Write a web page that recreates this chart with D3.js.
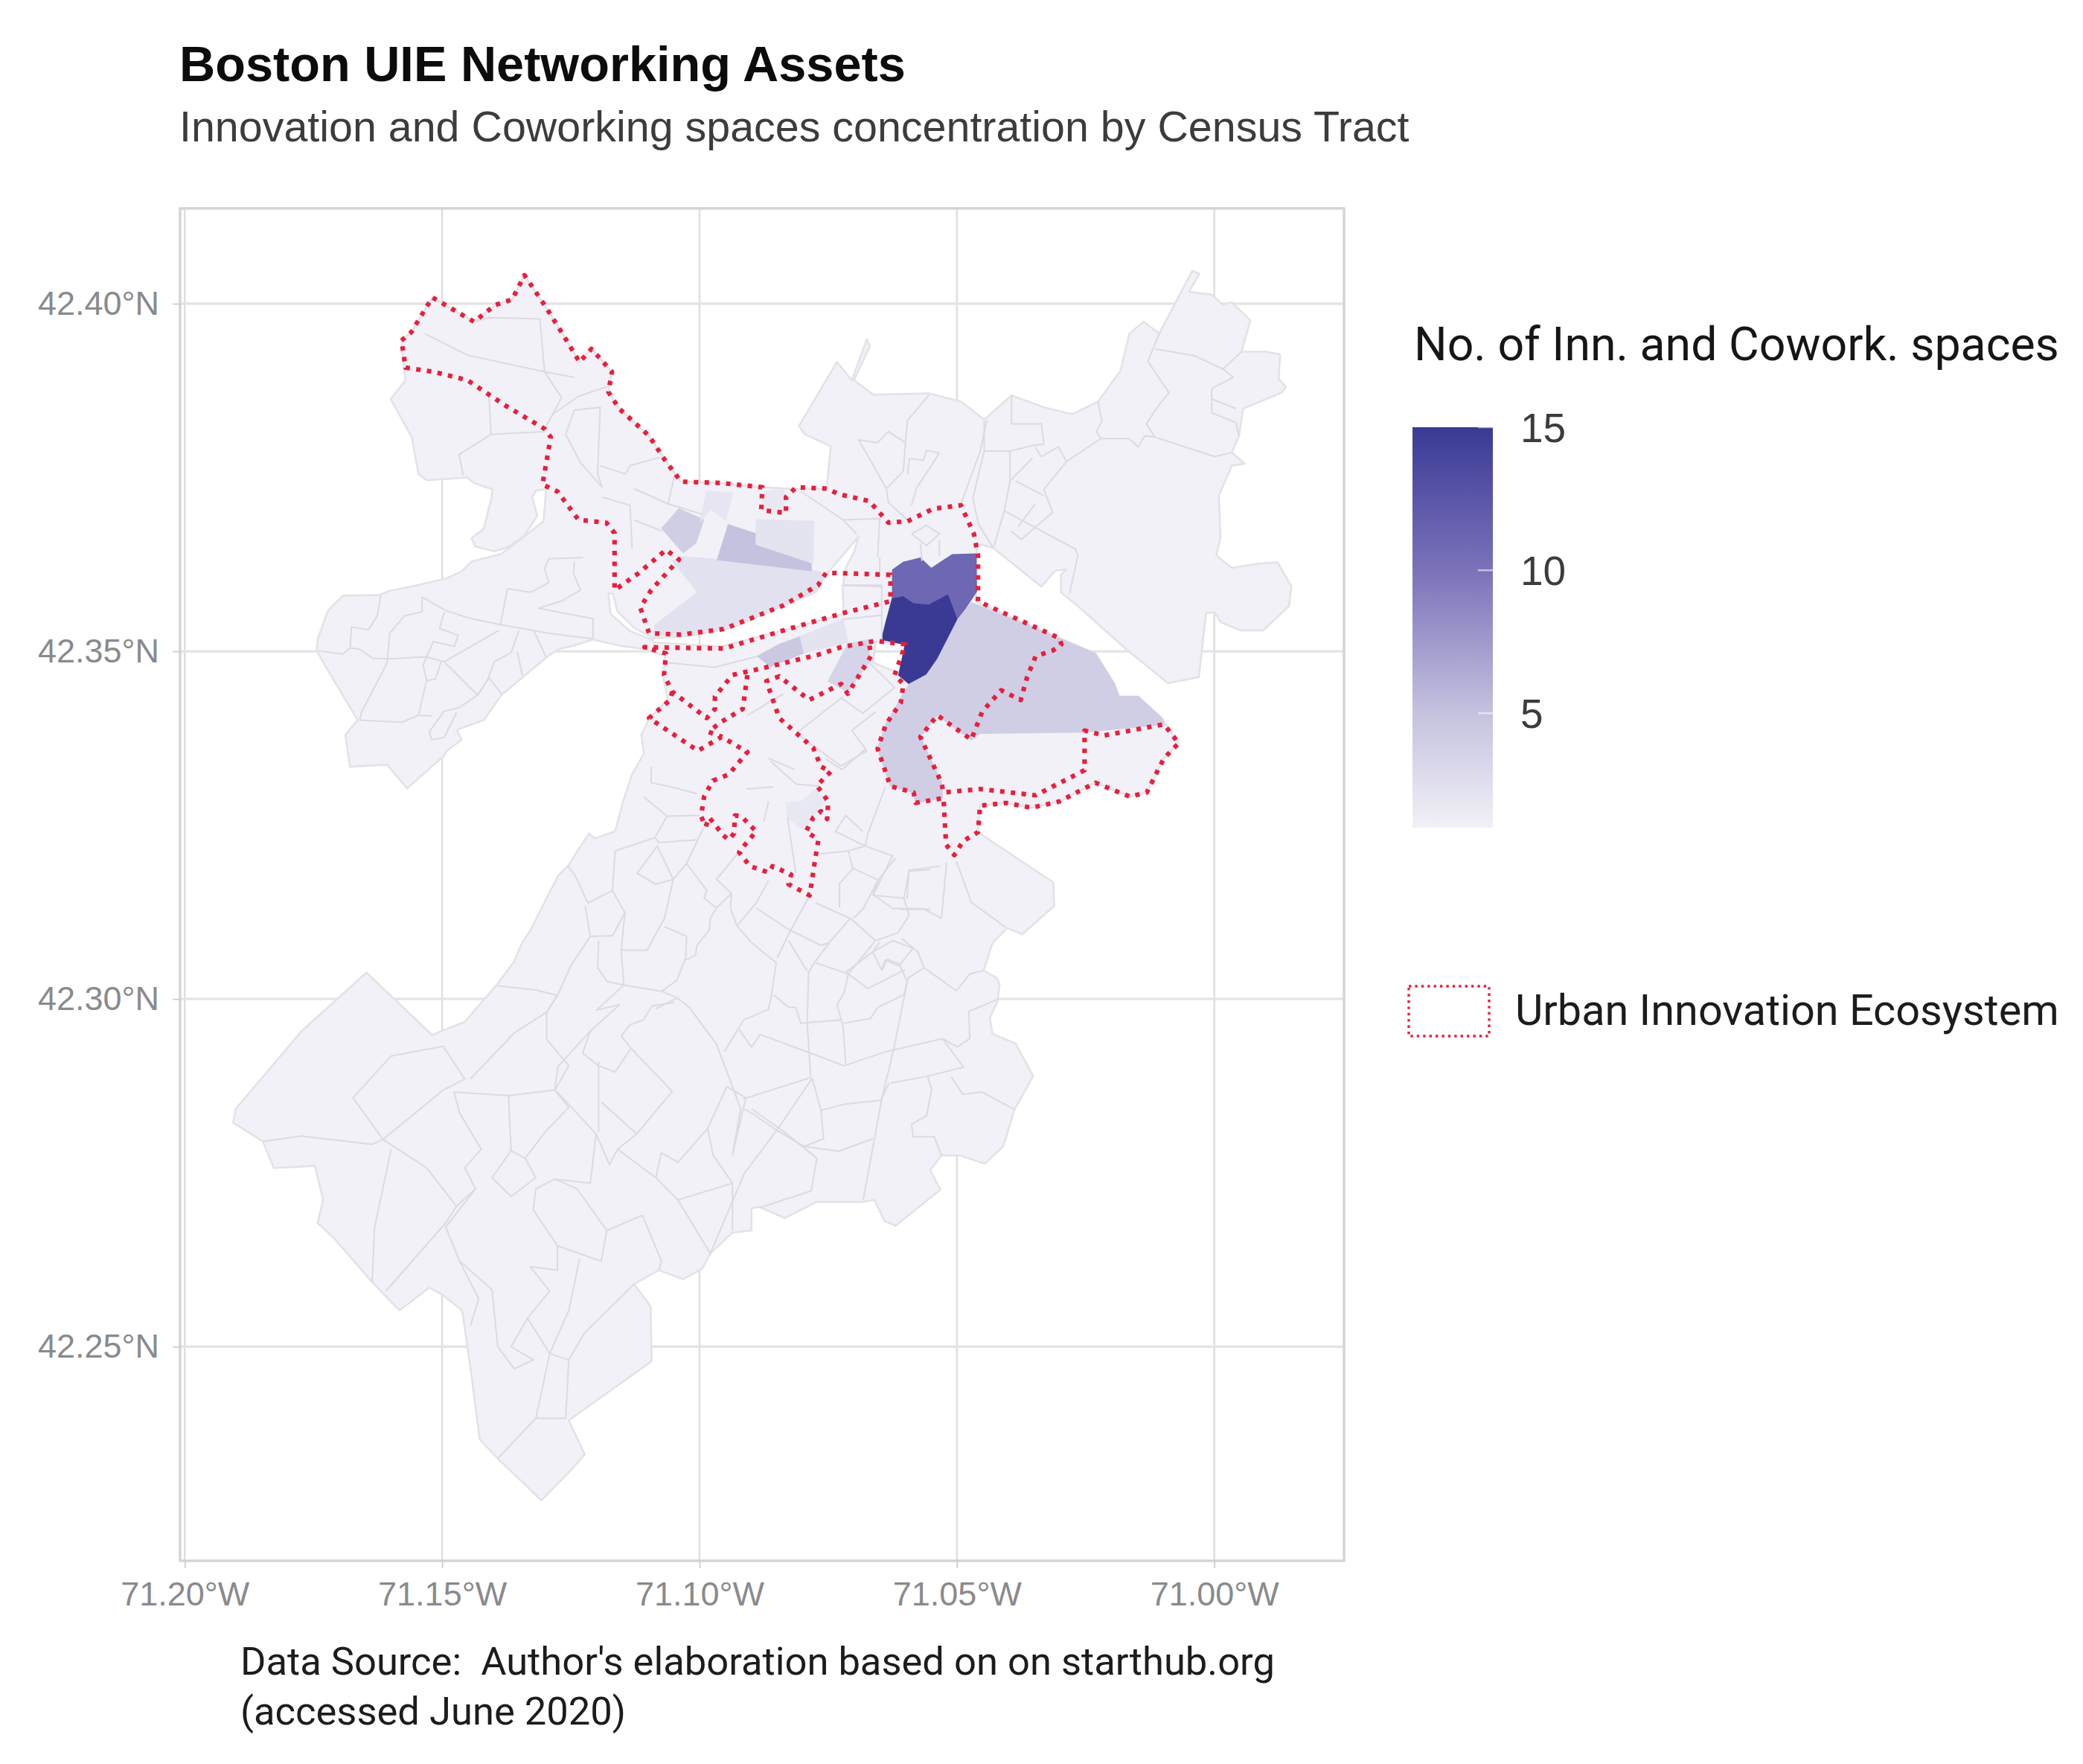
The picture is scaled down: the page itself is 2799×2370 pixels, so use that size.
<!DOCTYPE html>
<html><head><meta charset="utf-8">
<script src="https://cdn.jsdelivr.net/npm/d3@7"></script>
<style>html,body{margin:0;padding:0;background:#fff}svg{display:block}</style>
</head><body><svg id="c" width="2799" height="2370"></svg>
<script>
const titleText="Boston UIE Networking Assets";
const subtitleText="Innovation and Coworking spaces concentration by Census Tract";
const legendTitle="No. of Inn. and Cowork. spaces";
const legendKeyLabel="Urban Innovation Ecosystem";
const captionLines=["Data Source:  Author's elaboration based on on starthub.org","(accessed June 2020)"];
const lonTicks=[-71.20,-71.15,-71.10,-71.05,-71.00];
const latTicks=[42.25,42.30,42.35,42.40];
const lonExtent=[-71.2009,-70.9748];
const latExtent=[42.2192,42.4137];
const legendTicks=[5,10,15];
const colorStops=[1,5,10,15];
const colorValues=['#f1f1f7','#c5c2df','#7b72ba','#3a3a95'];

// whole city outline, lon/lat
const cityOutline=[[-71.1579,42.3947],[-71.1560,42.3959],[-71.1519,42.4009],[-71.1438,42.3974],[-71.1397,42.3998],[-71.1364,42.4006],[-71.1340,42.4041],[-71.1301,42.3998],[-71.1268,42.3959],[-71.1233,42.3916],[-71.1210,42.3935],[-71.1170,42.3902],[-71.1177,42.3873],[-71.1156,42.3849],[-71.1098,42.3810],[-71.1069,42.3777],[-71.1036,42.3744],[-71.0957,42.3742],[-71.0878,42.3736],[-71.0828,42.3734],[-71.0753,42.3734],[-71.0745,42.3795],[-71.0795,42.3812],[-71.0807,42.3824],[-71.0733,42.3916],[-71.0704,42.3890],[-71.0675,42.3949],[-71.0669,42.3939],[-71.0700,42.3890],[-71.0662,42.3869],[-71.0554,42.3871],[-71.0491,42.3859],[-71.0447,42.3833],[-71.0394,42.3868],[-71.0331,42.3851],[-71.0276,42.3841],[-71.0226,42.3859],[-71.0182,42.3904],[-71.0165,42.3957],[-71.0137,42.3974],[-71.0107,42.3957],[-71.0043,42.4047],[-71.0029,42.4043],[-71.0049,42.4017],[-71.0005,42.4013],[-70.9983,42.3998],[-70.9966,42.4002],[-70.9930,42.3976],[-70.9947,42.3931],[-70.9900,42.3931],[-70.9872,42.3927],[-70.9875,42.3892],[-70.9861,42.3880],[-70.9869,42.3872],[-70.9944,42.3849],[-70.9952,42.3810],[-70.9966,42.3786],[-70.9941,42.3770],[-70.9966,42.3767],[-70.9991,42.3724],[-70.9988,42.3663],[-70.9996,42.3638],[-70.9966,42.3620],[-70.9916,42.3626],[-70.9877,42.3628],[-70.9850,42.3593],[-70.9855,42.3565],[-70.9905,42.3530],[-70.9949,42.3530],[-70.9988,42.3542],[-70.9999,42.3556],[-71.0016,42.3555],[-71.0030,42.3463],[-71.0090,42.3454],[-71.0171,42.3503],[-71.0265,42.3565],[-71.0298,42.3585],[-71.0298,42.3610],[-71.0287,42.3618],[-71.0309,42.3616],[-71.0336,42.3593],[-71.0430,42.3649],[-71.0461,42.3655],[-71.0461,42.3593],[-71.0464,42.3573],[-71.0459,42.3570],[-71.0301,42.3519],[-71.0231,42.3497],[-71.0194,42.3453],[-71.0185,42.3435],[-71.0148,42.3435],[-71.0102,42.3404],[-71.0069,42.3368],[-71.0098,42.3346],[-71.0131,42.3297],[-71.0164,42.3291],[-71.0231,42.3311],[-71.0301,42.3284],[-71.0355,42.3275],[-71.0405,42.3282],[-71.0455,42.3278],[-71.0459,42.3240],[-71.0352,42.3187],[-71.0313,42.3168],[-71.0311,42.3134],[-71.0373,42.3093],[-71.0402,42.3102],[-71.0431,42.3080],[-71.0448,42.3041],[-71.0422,42.3030],[-71.0417,42.3020],[-71.0422,42.2995],[-71.0436,42.2973],[-71.0431,42.2950],[-71.0386,42.2936],[-71.0352,42.2889],[-71.0388,42.2841],[-71.0410,42.2788],[-71.0446,42.2763],[-71.0494,42.2775],[-71.0530,42.2775],[-71.0552,42.2754],[-71.0532,42.2726],[-71.0619,42.2674],[-71.0641,42.2681],[-71.0660,42.2711],[-71.0687,42.2708],[-71.0773,42.2708],[-71.0834,42.2685],[-71.0884,42.2701],[-71.0899,42.2699],[-71.0899,42.2667],[-71.0936,42.2664],[-71.0979,42.2634],[-71.0995,42.2612],[-71.1032,42.2597],[-71.1079,42.2610],[-71.1127,42.2590],[-71.1095,42.2558],[-71.1093,42.2479],[-71.1254,42.2394],[-71.1223,42.2345],[-71.1249,42.2323],[-71.1307,42.2279],[-71.1392,42.2339],[-71.1427,42.2367],[-71.1445,42.2470],[-71.1461,42.2552],[-71.1498,42.2574],[-71.1525,42.2585],[-71.1583,42.2552],[-71.1636,42.2593],[-71.1710,42.2656],[-71.1742,42.2678],[-71.1731,42.2711],[-71.1747,42.2760],[-71.1827,42.2757],[-71.1848,42.2795],[-71.1906,42.2822],[-71.1901,42.2842],[-71.1774,42.2953],[-71.1647,42.3038],[-71.1519,42.2948],[-71.1498,42.2955],[-71.1456,42.2967],[-71.1392,42.3022],[-71.1360,42.3054],[-71.1344,42.3082],[-71.1329,42.3098],[-71.1275,42.3177],[-71.1256,42.3191],[-71.1215,42.3238],[-71.1203,42.3231],[-71.1164,42.3241],[-71.1150,42.3280],[-71.1131,42.3323],[-71.1108,42.3353],[-71.1113,42.3380],[-71.1098,42.3403],[-71.1062,42.3430],[-71.1070,42.3462],[-71.1067,42.3494],[-71.1106,42.3503],[-71.1154,42.3508],[-71.1207,42.3517],[-71.1245,42.3508],[-71.1274,42.3503],[-71.1293,42.3494],[-71.1385,42.3437],[-71.1419,42.3401],[-71.1472,42.3387],[-71.1462,42.3373],[-71.1491,42.3357],[-71.1496,42.3350],[-71.1568,42.3303],[-71.1607,42.3337],[-71.1679,42.3334],[-71.1688,42.3380],[-71.1664,42.3401],[-71.1722,42.3473],[-71.1744,42.3501],[-71.1741,42.3519],[-71.1722,42.3558],[-71.1693,42.3580],[-71.1621,42.3581],[-71.1602,42.3587],[-71.1554,42.3594],[-71.1491,42.3605],[-71.1462,42.3615],[-71.1443,42.3629],[-71.1385,42.3640],[-71.1356,42.3656],[-71.1303,42.3687],[-71.1298,42.3733],[-71.1318,42.3731],[-71.1325,42.3722],[-71.1315,42.3695],[-71.1342,42.3665],[-71.1375,42.3649],[-71.1399,42.3644],[-71.1436,42.3651],[-71.1443,42.3663],[-71.1419,42.3676],[-71.1404,42.3722],[-71.1402,42.3733],[-71.1438,42.3742],[-71.1451,42.3750],[-71.1530,42.3746],[-71.1546,42.3755],[-71.1559,42.3808],[-71.1600,42.3863],[-71.1571,42.3890],[-71.1575,42.3910]];

// water cut out of the land
const waterGaps=[
[[-71.1090,42.3519],[-71.1019,42.3522],[-71.0936,42.3534],[-71.0845,42.3563],[-71.0774,42.3585],[-71.0753,42.3611],[-71.0691,42.3665],[-71.0700,42.3642],[-71.0716,42.3620],[-71.0722,42.3593],[-71.0720,42.3554],[-71.0828,42.3532],[-71.0957,42.3507],[-71.1052,42.3511],[-71.1090,42.3513]],
[[-71.1168,42.3583],[-71.1160,42.3558],[-71.1127,42.3534],[-71.1090,42.3519],[-71.1090,42.3516],[-71.1135,42.3529],[-71.1173,42.3554],[-71.1177,42.3583]],
[[-71.0658,42.3514],[-71.0600,42.3510],[-71.0611,42.3468],[-71.0663,42.3484]]];

// tracts with a count above the base level
const shadedTracts=[
[[-71.0625,42.3577],[-71.0604,42.3580],[-71.0584,42.3570],[-71.0555,42.3568],[-71.0517,42.3583],[-71.0509,42.3568],[-71.0498,42.3546],[-71.0538,42.3488],[-71.0559,42.3466],[-71.0592,42.3453],[-71.0613,42.3466],[-71.0600,42.3510],[-71.0646,42.3517],[-71.0638,42.3541]],
[[-71.0625,42.3617],[-71.0604,42.3628],[-71.0571,42.3634],[-71.0550,42.3619],[-71.0509,42.3639],[-71.0463,42.3640],[-71.0462,42.3586],[-71.0498,42.3546],[-71.0509,42.3568],[-71.0517,42.3583],[-71.0555,42.3568],[-71.0584,42.3570],[-71.0604,42.3580],[-71.0625,42.3577]],
[[-71.0472,42.3570],[-71.0301,42.3519],[-71.0231,42.3497],[-71.0194,42.3453],[-71.0185,42.3435],[-71.0148,42.3435],[-71.0102,42.3404],[-71.0098,42.3395],[-71.0252,42.3384],[-71.0455,42.3382],[-71.0472,42.3373],[-71.0538,42.3408],[-71.0571,42.3377],[-71.0530,42.3311],[-71.0528,42.3289],[-71.0580,42.3282],[-71.0584,42.3297],[-71.0629,42.3306],[-71.0654,42.3360],[-71.0638,42.3395],[-71.0604,42.3439],[-71.0592,42.3453],[-71.0559,42.3466],[-71.0538,42.3488],[-71.0498,42.3546]],
[[-71.1032,42.3636],[-71.0965,42.3632],[-71.0783,42.3617],[-71.0753,42.3611],[-71.0774,42.3586],[-71.0845,42.3565],[-71.0936,42.3537],[-71.1019,42.3525],[-71.1090,42.3523],[-71.1086,42.3538],[-71.1003,42.3585],[-71.1052,42.3630]],
[[-71.0944,42.3682],[-71.0890,42.3669],[-71.0890,42.3654],[-71.0783,42.3626],[-71.0783,42.3616],[-71.0965,42.3632]],
[[-71.1040,42.3705],[-71.0992,42.3689],[-71.1007,42.3656],[-71.1032,42.3642],[-71.1073,42.3677]],
[[-71.0890,42.3689],[-71.0778,42.3687],[-71.0780,42.3627],[-71.0890,42.3654],[-71.0890,42.3669]],
[[-71.0986,42.3730],[-71.0936,42.3728],[-71.0949,42.3689],[-71.0978,42.3705],[-71.0998,42.3687]],
[[-71.0874,42.3730],[-71.0836,42.3732],[-71.0836,42.3699],[-71.0878,42.3703]],
[[-71.0887,42.3493],[-71.0845,42.3510],[-71.0804,42.3521],[-71.0797,42.3498],[-71.0862,42.3478]],
[[-71.0804,42.3521],[-71.0721,42.3546],[-71.0712,42.3513],[-71.0797,42.3498]],
[[-71.0712,42.3510],[-71.0671,42.3517],[-71.0671,42.3484],[-71.0712,42.3442],[-71.0750,42.3457]],
[[-71.0832,42.3282],[-71.0801,42.3284],[-71.0774,42.3302],[-71.0757,42.3284],[-71.0779,42.3263],[-71.0798,42.3243],[-71.0829,42.3261]]];
const shadedValues=[15,11,4,2.4,5,4,2.2,2,1.8,4.5,2.2,3.5,1.8];

// remaining census tract boundaries
const tractLines=[
[[-71.1539,42.3578],[-71.1491,42.3558],[-71.1443,42.3547],[-71.1390,42.3539],[-71.1346,42.3533],[-71.1293,42.3526],[-71.1207,42.3518]],
[[-71.1387,42.3537],[-71.1373,42.3590],[-71.1327,42.3585],[-71.1293,42.3599],[-71.1301,42.3619],[-71.1293,42.3633],[-71.1226,42.3635]],
[[-71.1243,42.3629],[-71.1245,42.3612],[-71.1231,42.3588],[-71.1269,42.3572],[-71.1313,42.3562],[-71.1207,42.3547],[-71.1207,42.3518]],
[[-71.1619,42.3581],[-71.1626,42.3551],[-71.1643,42.3531],[-71.1676,42.3535],[-71.1679,42.3505],[-71.1693,42.3496],[-71.1741,42.3501]],
[[-71.1679,42.3505],[-71.1660,42.3503],[-71.1635,42.3490],[-71.1602,42.3489],[-71.1532,42.3492],[-71.1496,42.3485]],
[[-71.1539,42.3578],[-71.1539,42.3557],[-71.1573,42.3551],[-71.1602,42.3526],[-71.1607,42.3483],[-71.1657,42.3412],[-71.1660,42.3401]],
[[-71.1660,42.3401],[-71.1578,42.3398],[-71.1546,42.3408],[-71.1530,42.3458],[-71.1537,42.3480],[-71.1517,42.3514],[-71.1476,42.3507],[-71.1469,42.3523],[-71.1505,42.3533],[-71.1496,42.3556]],
[[-71.1390,42.3530],[-71.1496,42.3485],[-71.1431,42.3437],[-71.1409,42.3462],[-71.1385,42.3439]],
[[-71.1351,42.3530],[-71.1366,42.3498],[-71.1399,42.3485],[-71.1411,42.3460],[-71.1431,42.3437],[-71.1467,42.3419],[-71.1496,42.3414],[-71.1525,42.3384],[-71.1520,42.3373],[-71.1496,42.3376],[-71.1472,42.3412]],
[[-71.1354,42.3499],[-71.1344,42.3465]],
[[-71.1322,42.3530],[-71.1298,42.3492]],
[[-71.1546,42.3408],[-71.1520,42.3407]],
[[-71.1501,42.3487],[-71.1513,42.3460],[-71.1530,42.3458]],
[[-71.1534,42.3957],[-71.1451,42.3926],[-71.1301,42.3902],[-71.1243,42.3894]],
[[-71.1438,42.3974],[-71.1409,42.3980],[-71.1310,42.3978],[-71.1301,42.3902],[-71.1268,42.3865],[-71.1285,42.3841],[-71.1301,42.3820]],
[[-71.1285,42.3841],[-71.1235,42.3867],[-71.1177,42.3881]],
[[-71.1409,42.3869],[-71.1405,42.3812],[-71.1467,42.3783],[-71.1459,42.3753]],
[[-71.1405,42.3812],[-71.1301,42.3816]],
[[-71.1260,42.3812],[-71.1243,42.3847],[-71.1193,42.3851],[-71.1198,42.3755],[-71.1189,42.3736],[-71.1231,42.3771],[-71.1260,42.3812]],
[[-71.1193,42.3767],[-71.1144,42.3755],[-71.1135,42.3767],[-71.1077,42.3779]],
[[-71.1189,42.3722],[-71.1135,42.3710],[-71.1131,42.3648]],
[[-71.1127,42.3734],[-71.1061,42.3712],[-71.1048,42.3755]],
[[-71.1127,42.3689],[-71.1073,42.3673]],
[[-71.1061,42.3712],[-71.0994,42.3697]],
[[-71.0803,42.3730],[-71.0721,42.3689],[-71.0695,42.3669]],
[[-71.0721,42.3689],[-71.0650,42.3691],[-71.0654,42.3636]],
[[-71.0720,42.3595],[-71.0645,42.3593]],
[[-71.0650,42.3636],[-71.0650,42.3607]],
[[-71.0588,42.3669],[-71.0559,42.3681],[-71.0534,42.3669],[-71.0559,42.3652],[-71.0588,42.3669]],
[[-71.0571,42.3655],[-71.0568,42.3630]],
[[-71.0534,42.3660],[-71.0534,42.3637]],
[[-71.0554,42.3869],[-71.0596,42.3832],[-71.0600,42.3800],[-71.0633,42.3816],[-71.0654,42.3800],[-71.0691,42.3804],[-71.0662,42.3767],[-71.0637,42.3734],[-71.0633,42.3714],[-71.0596,42.3689]],
[[-71.0442,42.3832],[-71.0455,42.3787],[-71.0492,42.3712]],
[[-71.0534,42.3785],[-71.0559,42.3789],[-71.0565,42.3775],[-71.0592,42.3777],[-71.0596,42.3755]],
[[-71.0534,42.3785],[-71.0579,42.3734],[-71.0588,42.3710]],
[[-71.0637,42.3734],[-71.0604,42.3759],[-71.0600,42.3800]],
[[-71.0447,42.3831],[-71.0447,42.3788],[-71.0469,42.3720],[-71.0458,42.3683],[-71.0430,42.3649]],
[[-71.0447,42.3788],[-71.0397,42.3788],[-71.0353,42.3796],[-71.0331,42.3798],[-71.0336,42.3827],[-71.0394,42.3827],[-71.0394,42.3868]],
[[-71.0397,42.3788],[-71.0397,42.3745],[-71.0408,42.3702],[-71.0428,42.3651]],
[[-71.0408,42.3702],[-71.0270,42.3647],[-71.0265,42.3638],[-71.0281,42.3583]],
[[-71.0220,42.3806],[-71.0287,42.3773],[-71.0331,42.3733],[-71.0314,42.3700],[-71.0359,42.3671],[-71.0375,42.3661],[-71.0395,42.3673]],
[[-71.0386,42.3745],[-71.0331,42.3724]],
[[-71.0348,42.3712],[-71.0381,42.3679]],
[[-71.0348,42.3794],[-71.0336,42.3780],[-71.0303,42.3794],[-71.0287,42.3773]],
[[-71.0397,42.3745],[-71.0353,42.3778]],
[[-71.0226,42.3859],[-71.0218,42.3831],[-71.0229,42.3816],[-71.0220,42.3806]],
[[-71.0220,42.3806],[-71.0165,42.3806],[-71.0148,42.3794],[-71.0135,42.3810],[-71.0115,42.3808],[-70.9999,42.3780],[-70.9966,42.3786]],
[[-71.0107,42.3957],[-71.0129,42.3917],[-71.0088,42.3872],[-71.0107,42.3855],[-71.0132,42.3827],[-71.0115,42.3808]],
[[-71.0115,42.3935],[-71.0038,42.3925],[-70.9983,42.3906],[-70.9947,42.3931]],
[[-70.9983,42.3906],[-70.9963,42.3894],[-71.0005,42.3878],[-71.0005,42.3843],[-70.9958,42.3829],[-70.9952,42.3810]],
[[-71.0005,42.3863],[-70.9958,42.3849]],
[[-71.1069,42.3484],[-71.0970,42.3477],[-71.0887,42.3493]],
[[-71.0721,42.3595],[-71.0646,42.3595],[-71.0646,42.3517]],
[[-71.0721,42.3546],[-71.0646,42.3552]],
[[-71.0671,42.3484],[-71.0621,42.3448],[-71.0683,42.3411],[-71.0725,42.3433]],
[[-71.0907,42.3408],[-71.0837,42.3439]],
[[-71.0812,42.3382],[-71.0721,42.3435]],
[[-71.0812,42.3382],[-71.0725,42.3335],[-71.0675,42.3357],[-71.0704,42.3386],[-71.0658,42.3413]],
[[-71.0862,42.3342],[-71.0812,42.3309],[-71.0766,42.3306]],
[[-71.1094,42.3334],[-71.1094,42.3311],[-71.1049,42.3304],[-71.1005,42.3295]],
[[-71.1109,42.3291],[-71.1063,42.3263],[-71.1000,42.3264]],
[[-71.1063,42.3263],[-71.1087,42.3232],[-71.1164,42.3213]],
[[-71.1087,42.3232],[-71.1078,42.3225],[-71.1005,42.3229]],
[[-71.0993,42.3245],[-71.1025,42.3195],[-71.1051,42.3172],[-71.1082,42.3220],[-71.1121,42.3181],[-71.1085,42.3165],[-71.1051,42.3172]],
[[-71.1051,42.3172],[-71.1068,42.3116],[-71.1102,42.3070],[-71.1152,42.3070]],
[[-71.1164,42.3213],[-71.1169,42.3156],[-71.1145,42.3124],[-71.1152,42.3070],[-71.1147,42.3020],[-71.1200,42.2984],[-71.1155,42.2992]],
[[-71.1169,42.3156],[-71.1217,42.3138],[-71.1241,42.3177],[-71.1256,42.3191]],
[[-71.1222,42.3134],[-71.1212,42.3090],[-71.1169,42.3091],[-71.1145,42.3124]],
[[-71.1212,42.3090],[-71.1249,42.3049],[-71.1276,42.3005],[-71.1297,42.2981]],
[[-71.1196,42.3084],[-71.1198,42.3045],[-71.1179,42.3025],[-71.1147,42.3020]],
[[-71.1068,42.3104],[-71.1025,42.3090],[-71.1027,42.3059],[-71.1044,42.3027],[-71.1073,42.3011],[-71.1147,42.3020]],
[[-71.1025,42.3195],[-71.0986,42.3156],[-71.0991,42.3145],[-71.0967,42.3131],[-71.0938,42.3152],[-71.0967,42.3172],[-71.0926,42.3209]],
[[-71.0967,42.3131],[-71.0979,42.3116],[-71.0981,42.3099],[-71.1005,42.3077],[-71.1008,42.3063],[-71.1027,42.3056]],
[[-71.0938,42.3152],[-71.0940,42.3131],[-71.0928,42.3106],[-71.0899,42.3081],[-71.0851,42.3052],[-71.0861,42.3002],[-71.0866,42.2985],[-71.0914,42.2970],[-71.0952,42.2924]],
[[-71.1073,42.3011],[-71.1044,42.3002],[-71.1020,42.2988],[-71.0967,42.2935],[-71.0943,42.2888],[-71.0920,42.2842],[-71.0936,42.2776],[-71.0910,42.2858]],
[[-71.1155,42.2992],[-71.1212,42.2954],[-71.1275,42.2903],[-71.1281,42.2869]],
[[-71.1049,42.2995],[-71.1092,42.2990],[-71.1109,42.2970],[-71.1135,42.2963],[-71.1152,42.2947],[-71.1133,42.2929],[-71.1053,42.2867],[-71.1122,42.2806]],
[[-71.1133,42.2929],[-71.1164,42.2895],[-71.1196,42.2904],[-71.1227,42.2922],[-71.1212,42.2954]],
[[-71.0786,42.3149],[-71.0827,42.3093],[-71.0849,42.3059]],
[[-71.0890,42.3131],[-71.0827,42.3100]],
[[-71.0890,42.3138],[-71.0926,42.3106]],
[[-71.0866,42.3170],[-71.0890,42.3138]],
[[-71.0827,42.3100],[-71.0764,42.3077],[-71.0748,42.3081],[-71.0779,42.3050],[-71.0788,42.3038],[-71.0791,42.2967],[-71.0784,42.2888]],
[[-71.0827,42.3084],[-71.0791,42.3040]],
[[-71.0856,42.3006],[-71.0827,42.2988],[-71.0813,42.2988],[-71.0803,42.2965],[-71.0726,42.2970]],
[[-71.0748,42.3081],[-71.0707,42.3116],[-71.0658,42.3084],[-71.0711,42.3036]],
[[-71.0774,42.3052],[-71.0711,42.3036],[-71.0719,42.3009],[-71.0733,42.2992],[-71.0721,42.2960],[-71.0716,42.2906]],
[[-71.0711,42.3036],[-71.0673,42.3015],[-71.0601,42.3042]],
[[-71.0721,42.2965],[-71.0668,42.2972],[-71.0654,42.2988],[-71.0603,42.3006]],
[[-71.0610,42.3047],[-71.0598,42.3027]],
[[-71.0663,42.3067],[-71.0646,42.3042],[-71.0639,42.3056],[-71.0610,42.3047]],
[[-71.0658,42.3084],[-71.0615,42.3095],[-71.0593,42.3120],[-71.0603,42.3145]],
[[-71.0663,42.3149],[-71.0603,42.3145],[-71.0593,42.3184]],
[[-71.0774,42.3138],[-71.0707,42.3116]],
[[-71.0673,42.3238],[-71.0678,42.3220],[-71.0625,42.3206],[-71.0663,42.3149]],
[[-71.0678,42.3220],[-71.0711,42.3213],[-71.0764,42.3209]],
[[-71.0711,42.3213],[-71.0702,42.3188],[-71.0728,42.3166],[-71.0728,42.3131]],
[[-71.0683,42.3241],[-71.0716,42.3264],[-71.0736,42.3241],[-71.0678,42.3220]],
[[-71.0639,42.3305],[-71.0673,42.3238]],
[[-71.0552,42.3186],[-71.0593,42.3184]],
[[-71.0552,42.3129],[-71.0610,42.3129]],
[[-71.0866,42.3346],[-71.0815,42.3330]],
[[-71.0723,42.3330],[-71.0678,42.3359]],
[[-71.0723,42.3330],[-71.0755,42.3345]],
[[-71.0829,42.3261],[-71.0813,42.3181]],
[[-71.0866,42.3284],[-71.0875,42.3255]],
[[-71.0909,42.3302],[-71.0856,42.3305]],
[[-71.0923,42.2956],[-71.0899,42.2931],[-71.0882,42.2949],[-71.0784,42.2922],[-71.0719,42.2904],[-71.0639,42.2924],[-71.0528,42.2943]],
[[-71.0916,42.2856],[-71.0784,42.2887]],
[[-71.0649,42.2853],[-71.0632,42.2879]],
[[-71.0619,42.3203],[-71.0653,42.3171],[-71.0682,42.3130],[-71.0701,42.3116]],
[[-71.0781,42.2886],[-71.0764,42.2840],[-71.0759,42.2799],[-71.0797,42.2788],[-71.0850,42.2811],[-71.0894,42.2834],[-71.0913,42.2842]],
[[-71.0781,42.2886],[-71.0850,42.2811],[-71.0913,42.2749],[-71.0979,42.2634]],
[[-71.0797,42.2788],[-71.0730,42.2781],[-71.0663,42.2799]],
[[-71.0764,42.2840],[-71.0716,42.2849],[-71.0650,42.2854]],
[[-71.0595,42.3030],[-71.0622,42.2930],[-71.0646,42.2856],[-71.0682,42.2711]],
[[-71.0564,42.3045],[-71.0595,42.3030],[-71.0603,42.3006]],
[[-71.0528,42.2943],[-71.0487,42.2902],[-71.0557,42.2889],[-71.0629,42.2879]],
[[-71.0557,42.2889],[-71.0549,42.2870],[-71.0559,42.2832],[-71.0588,42.2820],[-71.0585,42.2802],[-71.0544,42.2802],[-71.0530,42.2775]],
[[-71.0511,42.2888],[-71.0489,42.2863],[-71.0451,42.2866],[-71.0388,42.2841]],
[[-71.0528,42.2943],[-71.0499,42.2931],[-71.0475,42.2943],[-71.0477,42.2982],[-71.0419,42.3000]],
[[-71.0564,42.3045],[-71.0501,42.3012],[-71.0475,42.3036],[-71.0448,42.3041]],
[[-71.0607,42.3087],[-71.0576,42.3068],[-71.0564,42.3045]],
[[-71.0663,42.3068],[-71.0624,42.3084],[-71.0585,42.3073],[-71.0610,42.3050],[-71.0636,42.3057],[-71.0646,42.3041]],
[[-71.0718,42.3037],[-71.0663,42.3068],[-71.0650,42.3082]],
[[-71.0702,42.3188],[-71.0653,42.3171],[-71.0663,42.3150],[-71.0624,42.3130],[-71.0566,42.3130],[-71.0530,42.3116],[-71.0520,42.3196]],
[[-71.0593,42.3185],[-71.0597,42.3144]],
[[-71.0593,42.3185],[-71.0532,42.3191]],
[[-71.0501,42.3198],[-71.0472,42.3139],[-71.0405,42.3103]],
[[-71.1599,42.2918],[-71.1673,42.2858],[-71.1615,42.2798],[-71.1498,42.2869],[-71.1456,42.2885],[-71.1498,42.2932],[-71.1599,42.2918]],
[[-71.1848,42.2795],[-71.1774,42.2803],[-71.1636,42.2791],[-71.1615,42.2798]],
[[-71.1615,42.2798],[-71.1530,42.2757],[-71.1472,42.2702],[-71.1493,42.2678],[-71.1609,42.2580]],
[[-71.1599,42.2784],[-71.1631,42.2672],[-71.1636,42.2593]],
[[-71.1477,42.2866],[-71.1466,42.2836],[-71.1424,42.2784],[-71.1456,42.2757],[-71.1435,42.2727],[-71.1472,42.2702]],
[[-71.1477,42.2866],[-71.1371,42.2861],[-71.1281,42.2869],[-71.1254,42.2844],[-71.1297,42.2811],[-71.1339,42.2771]],
[[-71.1371,42.2861],[-71.1366,42.2782],[-71.1403,42.2743],[-71.1366,42.2716],[-71.1318,42.2743],[-71.1339,42.2771],[-71.1366,42.2782]],
[[-71.1445,42.2885],[-71.1360,42.2951],[-71.1297,42.2981],[-71.1297,42.2942],[-71.1254,42.2904],[-71.1281,42.2869]],
[[-71.1392,42.3019],[-71.1318,42.3013],[-71.1276,42.3005],[-71.1297,42.2981]],
[[-71.1196,42.2910],[-71.1196,42.2809]],
[[-71.1276,42.2866],[-71.1201,42.2806],[-71.1212,42.2735],[-71.1281,42.2741],[-71.1318,42.2727]],
[[-71.1191,42.2852],[-71.1122,42.2806],[-71.1159,42.2784],[-71.1175,42.2762],[-71.1201,42.2806]],
[[-71.1085,42.2986],[-71.1042,42.3002]],
[[-71.1159,42.2784],[-71.1085,42.2743],[-71.1042,42.2711],[-71.0979,42.2634]],
[[-71.1085,42.2743],[-71.1074,42.2779],[-71.1042,42.2765],[-71.0984,42.2814],[-71.0947,42.2874],[-71.0910,42.2858]],
[[-71.0984,42.2814],[-71.0974,42.2776],[-71.0936,42.2735],[-71.0936,42.2667]],
[[-71.1042,42.2711],[-71.0936,42.2735]],
[[-71.0899,42.2842],[-71.0836,42.2809],[-71.0772,42.2771],[-71.0783,42.2724],[-71.0883,42.2700]],
[[-71.1318,42.2727],[-71.1323,42.2697],[-71.1276,42.2645],[-71.1191,42.2623],[-71.1180,42.2667],[-71.1111,42.2689]],
[[-71.1281,42.2741],[-71.1238,42.2727],[-71.1180,42.2667]],
[[-71.1111,42.2689],[-71.1074,42.2623],[-71.1079,42.2610]],
[[-71.1435,42.2727],[-71.1493,42.2672],[-71.1466,42.2623],[-71.1429,42.2569],[-71.1445,42.2530]],
[[-71.1466,42.2623],[-71.1403,42.2582],[-71.1392,42.2500],[-71.1360,42.2468],[-71.1323,42.2481],[-71.1366,42.2500],[-71.1334,42.2541],[-71.1291,42.2580],[-71.1329,42.2615],[-71.1276,42.2610],[-71.1276,42.2645]],
[[-71.1233,42.2626],[-71.1254,42.2552],[-71.1291,42.2490],[-71.1254,42.2481],[-71.1223,42.2520],[-71.1127,42.2590]],
[[-71.1334,42.2541],[-71.1291,42.2490],[-71.1318,42.2397],[-71.1392,42.2339]],
[[-71.1254,42.2481],[-71.1260,42.2397],[-71.1318,42.2397]]];

// Urban Innovation Ecosystem boundaries
const uieBoundaries=[
[[-71.1579,42.3947],[-71.1560,42.3959],[-71.1519,42.4009],[-71.1438,42.3974],[-71.1397,42.3998],[-71.1364,42.4006],[-71.1340,42.4041],[-71.1301,42.3998],[-71.1268,42.3959],[-71.1233,42.3916],[-71.1210,42.3935],[-71.1170,42.3902],[-71.1177,42.3873],[-71.1156,42.3849],[-71.1098,42.3810],[-71.1069,42.3777],[-71.1036,42.3744],[-71.0957,42.3742],[-71.0878,42.3736],[-71.0880,42.3703],[-71.0832,42.3699],[-71.0832,42.3722],[-71.0812,42.3736],[-71.0753,42.3734],[-71.0729,42.3726],[-71.0670,42.3716],[-71.0633,42.3685],[-71.0596,42.3687],[-71.0546,42.3705],[-71.0492,42.3710],[-71.0467,42.3669],[-71.0459,42.3638],[-71.0459,42.3572],[-71.0301,42.3519],[-71.0297,42.3510],[-71.0314,42.3501],[-71.0347,42.3493],[-71.0364,42.3462],[-71.0376,42.3430],[-71.0414,42.3444],[-71.0451,42.3413],[-71.0472,42.3373],[-71.0538,42.3408],[-71.0571,42.3377],[-71.0530,42.3311],[-71.0526,42.3297],[-71.0455,42.3302],[-71.0372,42.3295],[-71.0347,42.3293],[-71.0252,42.3329],[-71.0252,42.3386],[-71.0214,42.3379],[-71.0098,42.3395],[-71.0069,42.3368],[-71.0098,42.3346],[-71.0131,42.3297],[-71.0164,42.3291],[-71.0231,42.3311],[-71.0301,42.3284],[-71.0355,42.3275],[-71.0405,42.3282],[-71.0455,42.3278],[-71.0459,42.3240],[-71.0488,42.3227],[-71.0505,42.3207],[-71.0521,42.3222],[-71.0526,42.3289],[-71.0580,42.3282],[-71.0584,42.3297],[-71.0629,42.3306],[-71.0654,42.3360],[-71.0638,42.3395],[-71.0609,42.3426],[-71.0604,42.3453],[-71.0621,42.3466],[-71.0600,42.3510],[-71.0658,42.3515],[-71.0725,42.3506],[-71.0770,42.3495],[-71.0870,42.3477],[-71.0936,42.3466],[-71.0970,42.3435],[-71.0970,42.3417],[-71.0986,42.3404],[-71.1053,42.3442],[-71.1069,42.3466],[-71.1065,42.3497],[-71.1107,42.3506],[-71.0953,42.3504],[-71.0837,42.3530],[-71.0721,42.3555],[-71.0629,42.3572],[-71.0629,42.3610],[-71.0754,42.3613],[-71.0770,42.3595],[-71.0837,42.3566],[-71.0953,42.3532],[-71.1036,42.3524],[-71.1098,42.3526],[-71.1115,42.3563],[-71.1094,42.3588],[-71.1040,42.3632],[-71.1065,42.3646],[-71.1119,42.3612],[-71.1165,42.3588],[-71.1165,42.3670],[-71.1181,42.3685],[-71.1235,42.3689],[-71.1276,42.3730],[-71.1305,42.3740],[-71.1289,42.3808],[-71.1301,42.3820],[-71.1376,42.3853],[-71.1451,42.3890],[-71.1517,42.3902],[-71.1571,42.3908],[-71.1579,42.3947]],
[[-71.1053,42.3442],[-71.1057,42.3430],[-71.1098,42.3404],[-71.1003,42.3357],[-71.0957,42.3377],[-71.0907,42.3355],[-71.0943,42.3323],[-71.0974,42.3314],[-71.0991,42.3291],[-71.0997,42.3263],[-71.0988,42.3248],[-71.0981,42.3261],[-71.0967,42.3248],[-71.0955,42.3236],[-71.0943,42.3229],[-71.0933,42.3238],[-71.0931,42.3264],[-71.0919,42.3263],[-71.0890,42.3241],[-71.0914,42.3220],[-71.0923,42.3211],[-71.0902,42.3191],[-71.0866,42.3182],[-71.0858,42.3191],[-71.0822,42.3179],[-71.0827,42.3165],[-71.0786,42.3149],[-71.0781,42.3173],[-71.0776,42.3198],[-71.0769,42.3229],[-71.0793,42.3241],[-71.0779,42.3261],[-71.0764,42.3270],[-71.0752,42.3259],[-71.0750,42.3284],[-71.0772,42.3307],[-71.0745,42.3327],[-71.0764,42.3334],[-71.0779,42.3361],[-71.0845,42.3404],[-71.0870,42.3457],[-71.0845,42.3464],[-71.0787,42.3430],[-71.0725,42.3453],[-71.0712,42.3439],[-71.0667,42.3493],[-71.0671,42.3515]],
[[-71.0907,42.3466],[-71.0916,42.3417],[-71.0961,42.3397],[-71.0982,42.3384],[-71.0957,42.3377]]];

const W=2799,H=2370;
const svg=d3.select('#c');
svg.append('rect').attr('width',W).attr('height',H).attr('fill','#fff');
const x=d3.scaleLinear().domain(lonExtent).range([242,1806]);
const y=d3.scaleLinear().domain(latExtent).range([2097,280]);
const line=d3.line().x(d=>x(d[0])).y(d=>y(d[1]));
const ring=d=>line(d)+'Z';
const color=d3.scaleLinear().domain(colorStops).range(colorValues);
const labelFont='"Liberation Sans",Arimo,sans-serif';
const legendFont='Roboto,"Open Sans",sans-serif';

// grid
const grid=svg.append('g');
grid.selectAll('line.v').data(lonTicks).join('line').attr('x1',d=>x(d)).attr('x2',d=>x(d)).attr('y1',280).attr('y2',2097).attr('stroke','#dedee0').attr('stroke-width',2.4);
grid.selectAll('line.h').data(latTicks).join('line').attr('x1',242).attr('x2',1806).attr('y1',d=>y(d)).attr('y2',d=>y(d)).attr('stroke','#e4e4e6').attr('stroke-width',3.4);

// land
svg.append('path').attr('d',ring(cityOutline)+waterGaps.map(ring).join(''))
  .attr('fill',color(1)).attr('fill-rule','evenodd').attr('stroke','#e2e2e7').attr('stroke-width',2.6).attr('stroke-linejoin','round');
// shaded tracts
svg.append('g').selectAll('path').data(shadedTracts).join('path').attr('d',ring)
  .attr('fill',(d,i)=>color(shadedValues[i])).attr('stroke',(d,i)=>color(shadedValues[i])).attr('stroke-width',1.5);
// tract lines
svg.append('g').selectAll('path').data(tractLines).join('path').attr('d',line)
  .attr('fill','none').attr('stroke','#dadae0').attr('stroke-width',2).attr('stroke-linejoin','round');
// UIE boundary
svg.append('g').selectAll('path').data(uieBoundaries).join('path').attr('d',line)
  .attr('fill','none').attr('stroke','#e81f3c').attr('stroke-width',6.2).attr('stroke-dasharray','6 8.5').attr('stroke-linejoin','round');

// panel border
svg.append('rect').attr('x',242).attr('y',280).attr('width',1564).attr('height',1817).attr('fill','none').attr('stroke','#d4d4d6').attr('stroke-width',3.4);

// axes
const fmtLon=d=>Math.abs(d).toFixed(2)+'°W', fmtLat=d=>d.toFixed(2)+'°N';
const ax=svg.append('g').attr('transform','translate(0,2097)').call(d3.axisBottom(x).tickValues(lonTicks).tickFormat(fmtLon).tickSize(10).tickPadding(18));
const ay=svg.append('g').attr('transform','translate(242,0)').call(d3.axisLeft(y).tickValues(latTicks).tickFormat(fmtLat).tickSize(10).tickPadding(18));
[ax,ay].forEach(a=>{a.select('.domain').remove();a.selectAll('line').attr('stroke','#c8c8ca').attr('stroke-width',1.6);
  a.selectAll('text').attr('fill','#8a8a8c').attr('font-family',labelFont).attr('font-size',45);});

// title block
svg.append('text').attr('x',241).attr('y',109).text(titleText).attr('font-family',labelFont).attr('font-weight',700).attr('font-size',66.7).attr('fill','#0c0c0c');
svg.append('text').attr('x',241).attr('y',190).text(subtitleText).attr('font-family',labelFont).attr('font-size',57.4).attr('fill','#3c3c3c');

// colour bar
const barY=d3.scaleLinear().domain([1,15]).range([1112,574]);
const defs=svg.append('defs');
const grad=defs.append('linearGradient').attr('id','bar').attr('x1',0).attr('x2',0).attr('y1',1).attr('y2',0);
grad.selectAll('stop').data(colorStops).join('stop').attr('offset',d=>(d-1)/14).attr('stop-color',d=>color(d));
svg.append('rect').attr('x',1898).attr('y',barY(15)).attr('width',108).attr('height',barY(1)-barY(15)).attr('fill','url(#bar)');
svg.append('g').selectAll('line').data(legendTicks).join('line').attr('x1',1986).attr('x2',2006).attr('y1',d=>barY(d)).attr('y2',d=>barY(d)).attr('stroke','#fff').attr('stroke-opacity',.55).attr('stroke-width',2.5);
svg.append('g').selectAll('text').data(legendTicks).join('text').attr('x',2043).attr('y',d=>barY(d)).attr('dy','0.36em').text(d=>d).attr('font-family',labelFont).attr('font-size',55).attr('fill','#3c3c3c');
svg.append('text').attr('x',1900).attr('y',484).text(legendTitle).attr('font-family',legendFont).attr('font-size',62.6).attr('fill','#161616');

// UIE key
svg.append('rect').attr('x',1893).attr('y',1325).attr('width',108).attr('height',67).attr('fill','none').attr('stroke','#e81f3c').attr('stroke-width',3.4).attr('stroke-dasharray','3.4 5');
svg.append('text').attr('x',2036).attr('y',1377).text(legendKeyLabel).attr('font-family',legendFont).attr('font-size',57.6).attr('fill','#1c1c1c');

// caption
svg.append('g').selectAll('text').data(captionLines).join('text').attr('x',323).attr('y',(d,i)=>2250+i*67).text(d=>d).attr('xml:space','preserve').style('white-space','pre').attr('font-family',legendFont).attr('font-size',52.5).attr('fill','#1c1c1c');
</script></body></html>
